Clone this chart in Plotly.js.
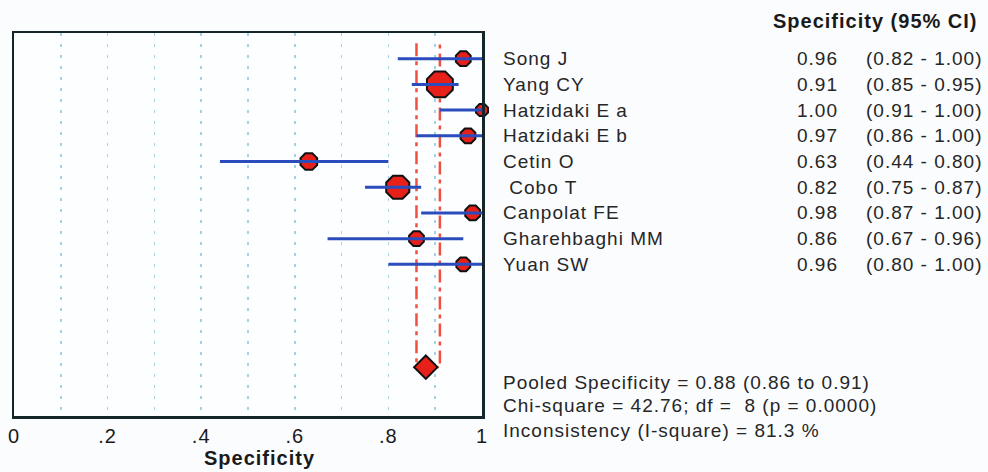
<!DOCTYPE html>
<html>
<head>
<meta charset="utf-8">
<script src="https://cdn.plot.ly/plotly-3.0.1.min.js"></script>
<style>
  html, body { margin: 0; padding: 0; background: #fbfcfe; }
  #chart { width: 988px; height: 472px; }
  svg text { letter-spacing: 1px; }
</style>
</head>
<body>
<div id="chart"></div>
<script>
// ---- data ----
const studies = ["Song J", "Yang CY", "Hatzidaki E a", "Hatzidaki E b", "Cetin O", "\u00a0Cobo T", "Canpolat FE", "Gharehbaghi MM", "Yuan SW"];
const spec    = [0.96, 0.91, 1.00, 0.97, 0.63, 0.82, 0.98, 0.86, 0.96];
const ciLow   = [0.82, 0.85, 0.91, 0.86, 0.44, 0.75, 0.87, 0.67, 0.80];
const ciHigh  = [1.00, 0.95, 1.00, 1.00, 0.80, 0.87, 1.00, 0.96, 1.00];
const weightSizes = [16, 28, 13, 16, 18, 25, 16, 16, 15];
const pooled = 0.88, pooledLow = 0.86, pooledHigh = 0.91;
const chiSquare = "42.76", df = 8, pValue = "0.0000", iSquare = "81.3";
const tickValues = [0, 0.1, 0.2, 0.3, 0.4, 0.5, 0.6, 0.7, 0.8, 0.9, 1.0];
const tickLabels = ["0", "", ".2", "", ".4", "", ".6", "", ".8", "", "1"];

// ---- layout helpers ----
const rows = studies.map((_, i) => i);
const pooledRow = 12;
const FONT = "Liberation Sans, Arial, sans-serif";
const TXT = "#262626";

const traces = [];
// pooled CI dashed lines
traces.push({
  x: [pooledLow, pooledLow, pooledHigh, pooledHigh],
  y: [-0.6, pooledRow, pooledRow, -0.6],
  mode: "lines",
  line: { color: "#f0503f", width: 2.5, dash: "13px,5px,4px,5px" },
  hoverinfo: "skip", showlegend: false
});
// study estimates
traces.push({
  x: spec, y: rows, mode: "markers", type: "scatter",
  cliponaxis: false,
  marker: { symbol: "octagon", size: weightSizes, opacity: 1, color: "#e8201a", line: { color: "#111", width: 2 } },
  showlegend: false
});
// CI lines drawn over the markers
const ciX = [], ciY = [];
rows.forEach(i => { ciX.push(ciLow[i], ciHigh[i], null); ciY.push(i, i, null); });
traces.push({
  x: ciX, y: ciY, mode: "lines", connectgaps: false,
  line: { color: "#2b4cbc", width: 3 },
  showlegend: false
});
// pooled diamond
traces.push({
  x: [pooled], y: [pooledRow], mode: "markers", cliponaxis: false,
  marker: { symbol: "diamond", size: 18, opacity: 1, color: "#e8201a", line: { color: "#111", width: 2 } },
  showlegend: false
});

// paper-x conversion for text columns (plot spans 14..482 px)
const px = p => (p - 14) / 468;
const py = p => (416 - p) / 383;

const ann = [];
studies.forEach((s, i) => {
  ann.push({ xref: "paper", yref: "y", x: px(501), y: i, text: s, showarrow: false, xanchor: "left", yanchor: "middle", font: { family: FONT, size: 19, color: TXT } });
  ann.push({ xref: "paper", yref: "y", x: px(840), y: i, text: spec[i].toFixed(2), showarrow: false, xanchor: "right", yanchor: "middle", font: { family: FONT, size: 19, color: TXT } });
  ann.push({ xref: "paper", yref: "y", x: px(985), y: i, text: "(" + ciLow[i].toFixed(2) + " - " + ciHigh[i].toFixed(2) + ")", showarrow: false, xanchor: "right", yanchor: "middle", font: { family: FONT, size: 19, color: TXT } });
});
ann.push({ xref: "paper", yref: "paper", x: px(980), y: py(21), text: "<b>Specificity (95% CI)</b>", showarrow: false, xanchor: "right", yanchor: "middle", font: { family: FONT, size: 20, color: "#1a1a1a" } });
const stats = [
  "Pooled Specificity = " + pooled.toFixed(2) + " (" + pooledLow.toFixed(2) + " to " + pooledHigh.toFixed(2) + ")",
  "Chi-square = " + chiSquare + "; df = \u00a0" + df + " (p = " + pValue + ")",
  "Inconsistency (I-square) = " + iSquare + " %"
];
const statY = [382, 405, 430];
stats.forEach((t, i) => {
  ann.push({ xref: "paper", yref: "paper", x: px(501), y: py(statY[i]), text: t, showarrow: false, xanchor: "left", yanchor: "middle", font: { family: FONT, size: 19, color: TXT } });
});
ann.push({ xref: "paper", yref: "paper", x: px(259), y: py(458), text: "<b>Specificity</b>", showarrow: false, xanchor: "center", yanchor: "middle", font: { family: FONT, size: 20, color: "#1a1a1a" } });

const layout = {
  width: 988, height: 472,
  margin: { l: 14, r: 506, t: 33, b: 56 },
  paper_bgcolor: "#fbfcfe", plot_bgcolor: "#fdfeff",
  xaxis: {
    range: [0, 1], tickvals: tickValues, ticktext: tickLabels,
    showgrid: true, gridcolor: "#a6d2e2", gridwidth: 1.5, griddash: "3px,8px",
    zeroline: false, showline: true, linecolor: "#15262b", linewidth: 2.5, mirror: true,
    ticks: "", tickfont: { family: FONT, size: 20, color: "#1a1a1a" }, fixedrange: true
  },
  yaxis: {
    range: [13.9, -1], showgrid: false, zeroline: false, showticklabels: false,
    showline: true, linecolor: "#15262b", linewidth: 2.5, mirror: true, ticks: "", fixedrange: true
  },
  annotations: ann,
  showlegend: false
};

Plotly.newPlot("chart", traces, layout, { displayModeBar: false, staticPlot: true });
</script>
</body>
</html>
